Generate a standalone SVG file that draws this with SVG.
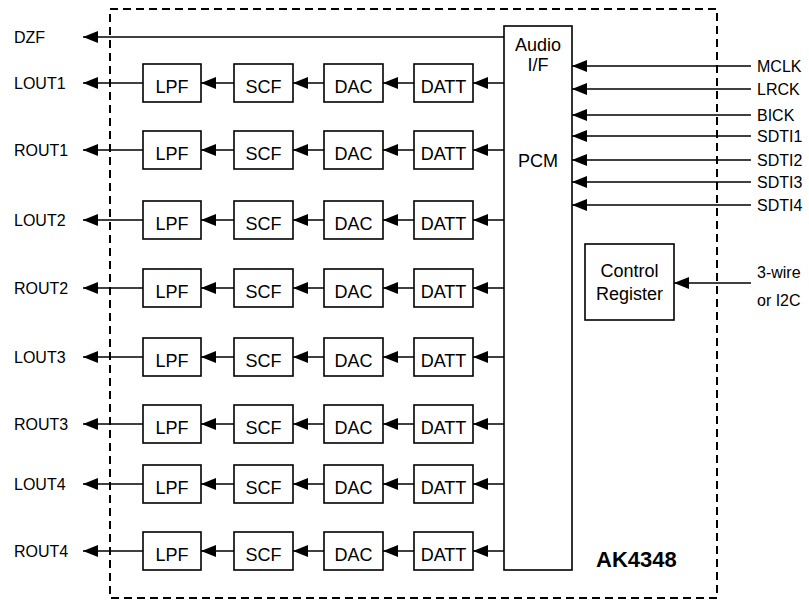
<svg xmlns="http://www.w3.org/2000/svg" width="809" height="603" viewBox="0 0 809 603">
<style>
text{font-family:"Liberation Sans",Arial,sans-serif;fill:#000}
.lbl{font-size:16px}
.bx{font-size:18px;text-anchor:middle}
.box{fill:#fff;stroke:#000;stroke-width:1.6}
.ln{stroke:#000;stroke-width:1.5;fill:none}
</style>
<defs>
<marker id="ah" markerUnits="userSpaceOnUse" markerWidth="15" markerHeight="12" refX="15" refY="6" orient="auto" viewBox="0 0 15 12">
<path d="M0,0 L15,6 L0,12 Z" fill="#000"/>
</marker>
<g id="row">
<rect class="box" x="143" y="-19" width="58" height="38"/>
<rect class="box" x="234" y="-19" width="59" height="38"/>
<rect class="box" x="324" y="-19" width="59" height="38"/>
<rect class="box" x="414" y="-19" width="59" height="38"/>
<text class="bx" x="172" y="10">LPF</text>
<text class="bx" x="263.5" y="10">SCF</text>
<text class="bx" x="353.5" y="10">DAC</text>
<text class="bx" x="443.5" y="10">DATT</text>
<line class="ln" x1="143" y1="0" x2="83" y2="0" marker-end="url(#ah)"/>
<line class="ln" x1="234" y1="0" x2="201" y2="0" marker-end="url(#ah)"/>
<line class="ln" x1="324" y1="0" x2="293" y2="0" marker-end="url(#ah)"/>
<line class="ln" x1="414" y1="0" x2="383" y2="0" marker-end="url(#ah)"/>
<line class="ln" x1="504" y1="0" x2="473" y2="0" marker-end="url(#ah)"/>
</g>
</defs>
<rect id="chip" x="110" y="9" width="607" height="589" fill="none" stroke="#000" stroke-width="2" stroke-dasharray="8,5"/>
<g id="audio-if">
<rect class="box" x="504" y="26" width="68" height="544"/>
<text class="bx" x="538" y="51">Audio</text>
<text class="bx" x="538" y="71">I/F</text>
<text class="bx" x="538" y="167">PCM</text>
</g>
<g id="control-register">
<rect class="box" x="585" y="244" width="89" height="76"/>
<text class="bx" x="629.5" y="277">Control</text>
<text class="bx" x="629.5" y="300">Register</text>
</g>
<g id="rows">
<use href="#row" y="83"/>
<use href="#row" y="150"/>
<use href="#row" y="220"/>
<use href="#row" y="288"/>
<use href="#row" y="357"/>
<use href="#row" y="424"/>
<use href="#row" y="484"/>
<use href="#row" y="551"/>
</g>
<g id="connectors">
<line class="ln" x1="504" y1="37" x2="83" y2="37" marker-end="url(#ah)"/>
<line class="ln" x1="751" y1="66" x2="572" y2="66" marker-end="url(#ah)"/>
<line class="ln" x1="751" y1="89" x2="572" y2="89" marker-end="url(#ah)"/>
<line class="ln" x1="751" y1="115" x2="572" y2="115" marker-end="url(#ah)"/>
<line class="ln" x1="751" y1="136" x2="572" y2="136" marker-end="url(#ah)"/>
<line class="ln" x1="751" y1="160" x2="572" y2="160" marker-end="url(#ah)"/>
<line class="ln" x1="751" y1="182" x2="572" y2="182" marker-end="url(#ah)"/>
<line class="ln" x1="751" y1="205" x2="572" y2="205" marker-end="url(#ah)"/>
<line class="ln" x1="751" y1="283" x2="674" y2="283" marker-end="url(#ah)"/>
</g>
<g id="labels">
<text class="lbl" x="14" y="43">DZF</text>
<text class="lbl" x="14" y="89">LOUT1</text>
<text class="lbl" x="14" y="156">ROUT1</text>
<text class="lbl" x="14" y="226">LOUT2</text>
<text class="lbl" x="14" y="294">ROUT2</text>
<text class="lbl" x="14" y="363">LOUT3</text>
<text class="lbl" x="14" y="430">ROUT3</text>
<text class="lbl" x="14" y="490">LOUT4</text>
<text class="lbl" x="14" y="557">ROUT4</text>
<text class="lbl" x="757" y="72">MCLK</text>
<text class="lbl" x="757" y="95">LRCK</text>
<text class="lbl" x="757" y="121">BICK</text>
<text class="lbl" x="757" y="142">SDTI1</text>
<text class="lbl" x="757" y="166">SDTI2</text>
<text class="lbl" x="757" y="188">SDTI3</text>
<text class="lbl" x="757" y="211">SDTI4</text>
<text class="lbl" x="757" y="278">3-wire</text>
<text class="lbl" x="757" y="306">or I2C</text>
<text x="596" y="567" style="font-size:22px;font-weight:bold">AK4348</text>
</g>
</svg>
